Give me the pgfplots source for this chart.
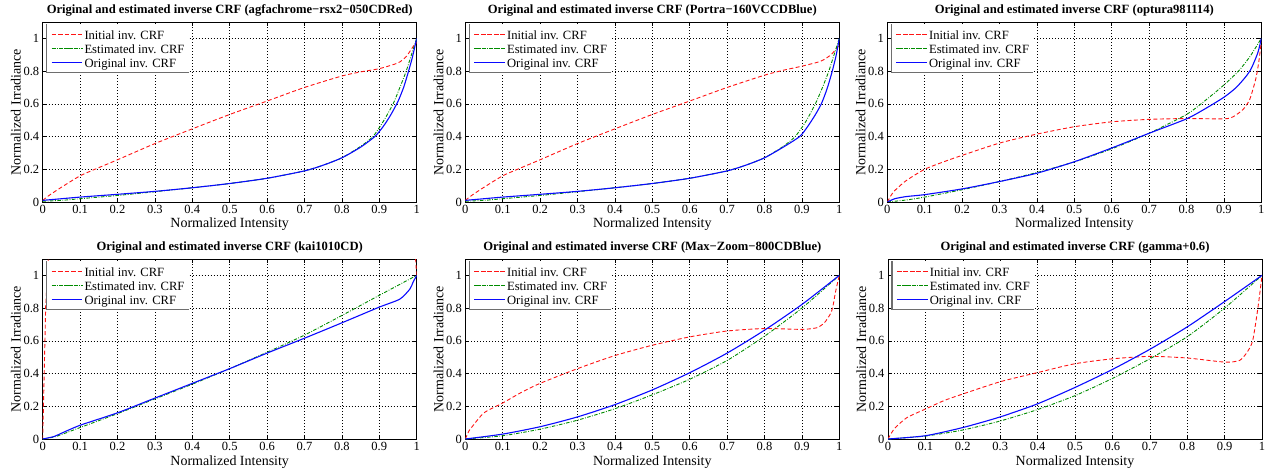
\documentclass[border=0pt]{standalone}
\usepackage{fontspec}
\setmainfont{Liberation Serif}
\usepackage{pgfplots}
\pgfplotsset{compat=1.18}

\definecolor{mred}{RGB}{255,20,20}
\definecolor{mgreen}{RGB}{0,140,0}
\definecolor{mblue}{RGB}{10,10,255}
% key colours, one step off the line colours
\definecolor{kred}{RGB}{254,21,21}
\definecolor{kgreen}{RGB}{1,139,1}
\definecolor{kblue}{RGB}{11,11,254}
\definecolor{legline}{RGB}{110,110,110}

\tikzset{
  ini/.style={draw=mred, line width=0.9pt, dash pattern=on 4pt off 2.5pt},
  est/.style={draw=mgreen, line width=0.9pt, dash pattern=on 3.5pt off 1.5pt on 0.8pt off 1.5pt},
  ori/.style={draw=mblue, line width=1.1pt},
}

% legend box and its three key lines, drawn inside each axis
\newcommand\crfbox{%
  \fill[white] (axis description cs:0.0107,0.987) rectangle (axis description cs:0.39,0.7206);
  \draw[legline, line width=1.4pt] (axis description cs:0.0107,0.987)
    -- (axis description cs:0.0107,0.7206) -- (axis description cs:0.39,0.7206);
  \addplot[ini, draw=kred, color=kred, forget plot] coordinates {(0.024,1.023) (0.104,1.023)};
  \addplot[est, draw=kgreen, color=kgreen, forget plot] coordinates {(0.024,0.937) (0.104,0.937)};
  \addplot[ori, draw=kblue, color=kblue, forget plot] coordinates {(0.024,0.852) (0.104,0.852)};
}

\pgfplotsset{
  crf/.style={
    scale only axis, width=374pt, height=180pt,
    anchor=south west,
    xmin=0, xmax=1, ymin=0, ymax=1.1,
    xtick={0,0.1,0.2,0.3,0.4,0.5,0.6,0.7,0.8,0.9,1},
    ytick={0,0.2,0.4,0.6,0.8,1},
    tick align=inside, major tick length=4pt,
    xtick pos=both, ytick pos=both,
    xmajorgrids, ymajorgrids,
    grid style={black, line width=0.6pt, dash pattern=on 1pt off 2pt},
    axis line style={black, line width=0.8pt},
    tick style={black, line width=0.6pt},
    ticklabel style={font=\fontsize{12.5}{14}\selectfont},
    /pgf/number format/assume math mode=true,
    xlabel={Normalized Intensity}, ylabel={Normalized Irradiance},
    label style={font=\fontsize{14}{16}\selectfont},
    xlabel style={at={(axis description cs:0.5,0)}, anchor=base, yshift=-26pt},
    ylabel style={at={([xshift=-22pt]axis description cs:0,0.5)}, anchor=base},
    every axis title shift=0pt,
    title style={font=\fontsize{12.6}{14}\selectfont\bfseries, at={(axis description cs:0.5,1)}, anchor=base, yshift=8.5pt},
    legend style={at={(0.0107,0.987)}, anchor=north west, draw=none, fill=none,
      font=\fontsize{12.6}{14}\selectfont, inner xsep=5pt, inner ysep=3pt,
      row sep=0pt, column sep=0pt,
      nodes={inner xsep=1.5pt, inner ysep=0pt, text height=11.5pt, text depth=2.5pt}},
    legend cell align=left,
    legend image code/.code={\path (0pt,0pt) -- (30pt,0pt);},
  },
}

\begin{document}
\begin{tikzpicture}
\useasboundingbox (0,0) rectangle (1272pt,469pt);

% ---------- row 1, left
\begin{axis}[crf, at={(42.7pt,267pt)},
  title={Original and estimated inverse CRF (agfachrome−rsx2−050CDRed)}]
\addplot[ini, smooth, tension=0.4] coordinates {
  (0,0.01) (0.02,0.045) (0.05,0.09) (0.1,0.16) (0.15,0.21) (0.2,0.258)
  (0.3,0.357) (0.4,0.447) (0.5,0.535) (0.6,0.617) (0.7,0.70) (0.8,0.77)
  (0.85,0.795) (0.9,0.815) (0.95,0.85) (0.972,0.889) (0.992,0.955) (1,0.975)};
\addplot[est, smooth, tension=0.4] coordinates {
  (0,0.005) (0.05,0.01) (0.1,0.02) (0.2,0.04) (0.3,0.063) (0.4,0.087)
  (0.5,0.113) (0.6,0.145) (0.7,0.19) (0.75,0.225) (0.8,0.27) (0.85,0.34)
  (0.883,0.40) (0.91,0.49) (0.937,0.6) (0.955,0.7) (0.972,0.8) (0.986,0.9) (1,1)};
\addplot[ori, smooth, tension=0.4] coordinates {
  (0,0.01) (0.05,0.02) (0.1,0.03) (0.2,0.047) (0.3,0.065) (0.4,0.087)
  (0.5,0.113) (0.6,0.145) (0.7,0.19) (0.75,0.225) (0.8,0.27) (0.85,0.335)
  (0.888,0.40) (0.91,0.46) (0.93,0.53) (0.95,0.615) (0.965,0.7)
  (0.977,0.79) (0.988,0.88) (1,1)};
\crfbox
\legend{Initial inv. CRF, Estimated inv. CRF, Original inv. CRF}
\end{axis}

% ---------- row 1, middle
\begin{axis}[crf, at={(465.3pt,267pt)},
  title={Original and estimated inverse CRF (Portra−160VCCDBlue)}]
\addplot[ini, smooth, tension=0.4] coordinates {
  (0,0.01) (0.02,0.045) (0.05,0.09) (0.1,0.16) (0.15,0.21) (0.2,0.258)
  (0.3,0.357) (0.4,0.447) (0.5,0.535) (0.6,0.617) (0.7,0.70) (0.8,0.775)
  (0.85,0.805) (0.9,0.83) (0.95,0.86) (0.975,0.895) (0.99,0.93) (1,0.96)};
\addplot[est, smooth, tension=0.4] coordinates {
  (0,0.005) (0.05,0.01) (0.1,0.02) (0.2,0.04) (0.3,0.063) (0.4,0.087)
  (0.5,0.113) (0.6,0.145) (0.7,0.19) (0.75,0.225) (0.8,0.27) (0.85,0.34)
  (0.882,0.40) (0.91,0.49) (0.936,0.6) (0.955,0.7) (0.972,0.8) (0.986,0.9) (1,1)};
\addplot[ori, smooth, tension=0.4] coordinates {
  (0,0.01) (0.05,0.02) (0.1,0.03) (0.2,0.047) (0.3,0.065) (0.4,0.087)
  (0.5,0.113) (0.6,0.145) (0.7,0.19) (0.75,0.225) (0.8,0.27) (0.85,0.335)
  (0.894,0.40) (0.915,0.46) (0.935,0.53) (0.952,0.6) (0.967,0.69)
  (0.98,0.79) (0.991,0.89) (1,1)};
\crfbox
\legend{Initial inv. CRF, Estimated inv. CRF, Original inv. CRF}
\end{axis}

% ---------- row 1, right
\begin{axis}[crf, at={(887.3pt,267pt)},
  title={Original and estimated inverse CRF (optura981114)}]
\addplot[ini, smooth, tension=0.4] coordinates {
  (0,0) (0.01,0.04) (0.02,0.07) (0.05,0.13) (0.1,0.2) (0.15,0.245) (0.2,0.285)
  (0.3,0.36) (0.4,0.415) (0.5,0.46) (0.6,0.49) (0.7,0.505) (0.8,0.51)
  (0.9,0.508) (0.924,0.52) (0.951,0.565) (0.969,0.627) (0.985,0.75)
  (0.993,0.852) (1,0.98)};
\addplot[est, smooth, tension=0.4] coordinates {
  (0,0) (0.05,0.012) (0.1,0.03) (0.2,0.075) (0.3,0.125) (0.4,0.18)
  (0.5,0.245) (0.6,0.325) (0.7,0.42) (0.8,0.535) (0.85,0.62) (0.9,0.715)
  (0.939,0.8) (0.97,0.89) (1,1)};
\addplot[ori, smooth, tension=0.4] coordinates {
  (0,0) (0.02,0.02) (0.05,0.033) (0.1,0.045) (0.2,0.08) (0.3,0.125)
  (0.4,0.176) (0.5,0.246) (0.6,0.33) (0.7,0.42) (0.8,0.508) (0.85,0.57)
  (0.9,0.64) (0.933,0.7) (0.96,0.77) (0.974,0.82) (0.991,0.914) (1,1)};
\crfbox
\legend{Initial inv. CRF, Estimated inv. CRF, Original inv. CRF}
\end{axis}

% ---------- row 2, left
\begin{axis}[crf, at={(42.7pt,30pt)},
  title={Original and estimated inverse CRF (kai1010CD)}]
\addplot[ini] coordinates {
  (0,0) (0.004,0.4) (0.008,0.81) (0.015,1.1) (0.02,1.25)
  (0.99,1.25) (0.997,1.1) (1,1)};
\addplot[est, smooth, tension=0.4] coordinates {
  (0,0) (0.03,0.012) (0.05,0.027) (0.1,0.07) (0.2,0.155) (0.3,0.245)
  (0.4,0.335) (0.5,0.43) (0.6,0.53) (0.7,0.635) (0.8,0.755) (0.9,0.878) (1,1)};
\addplot[ori, smooth, tension=0.4] coordinates {
  (0,0) (0.03,0.015) (0.05,0.035) (0.1,0.084) (0.2,0.16) (0.3,0.25)
  (0.4,0.34) (0.5,0.43) (0.6,0.525) (0.7,0.616) (0.8,0.71) (0.9,0.806)
  (0.955,0.855) (0.982,0.917) (0.99,0.957) (1,1)};
\crfbox
\legend{Initial inv. CRF, Estimated inv. CRF, Original inv. CRF}
\end{axis}

% ---------- row 2, middle
\begin{axis}[crf, at={(465.3pt,30pt)},
  title={Original and estimated inverse CRF (Max−Zoom−800CDBlue)}]
\addplot[ini, smooth, tension=0.4] coordinates {
  (0,0) (0.01,0.05) (0.02,0.08) (0.05,0.16) (0.1,0.22) (0.15,0.285)
  (0.2,0.34) (0.3,0.43) (0.4,0.51) (0.5,0.573) (0.6,0.624) (0.7,0.66)
  (0.8,0.675) (0.9,0.67) (0.94,0.68) (0.96,0.71) (0.975,0.76) (0.982,0.8)
  (0.99,0.9) (1,1)};
\addplot[est, smooth, tension=0.4] coordinates {
  (0,0) (0.1,0.02) (0.2,0.06) (0.3,0.115) (0.4,0.185) (0.5,0.27)
  (0.6,0.365) (0.7,0.48) (0.8,0.628) (0.9,0.8) (1,1)};
\addplot[ori, smooth, tension=0.4] coordinates {
  (0,0) (0.1,0.03) (0.2,0.075) (0.3,0.135) (0.4,0.21) (0.5,0.3)
  (0.6,0.405) (0.7,0.525) (0.8,0.665) (0.9,0.822) (1,1)};
\crfbox
\legend{Initial inv. CRF, Estimated inv. CRF, Original inv. CRF}
\end{axis}

% ---------- row 2, right
\begin{axis}[crf, at={(888pt,30pt)},
  title={Original and estimated inverse CRF (gamma+0.6)}]
\addplot[ini, smooth, tension=0.4] coordinates {
  (0,0) (0.01,0.04) (0.02,0.07) (0.05,0.13) (0.1,0.183) (0.15,0.235)
  (0.2,0.275) (0.3,0.35) (0.4,0.406) (0.5,0.46) (0.6,0.49) (0.7,0.505)
  (0.8,0.495) (0.9,0.47) (0.94,0.48) (0.96,0.53) (0.975,0.6) (0.989,0.8) (1,1)};
\addplot[est, smooth, tension=0.4] coordinates {
  (0,0) (0.1,0.018) (0.2,0.055) (0.3,0.11) (0.4,0.18) (0.5,0.265)
  (0.6,0.37) (0.7,0.49) (0.8,0.625) (0.9,0.8) (1,1)};
\addplot[ori, smooth, tension=0.4] coordinates {
  (0,0) (0.1,0.02) (0.2,0.07) (0.3,0.135) (0.4,0.215) (0.5,0.315)
  (0.6,0.425) (0.7,0.548) (0.8,0.685) (0.9,0.84) (1,1)};
\crfbox
\legend{Initial inv. CRF, Estimated inv. CRF, Original inv. CRF}
\end{axis}
\end{tikzpicture}
\end{document}
